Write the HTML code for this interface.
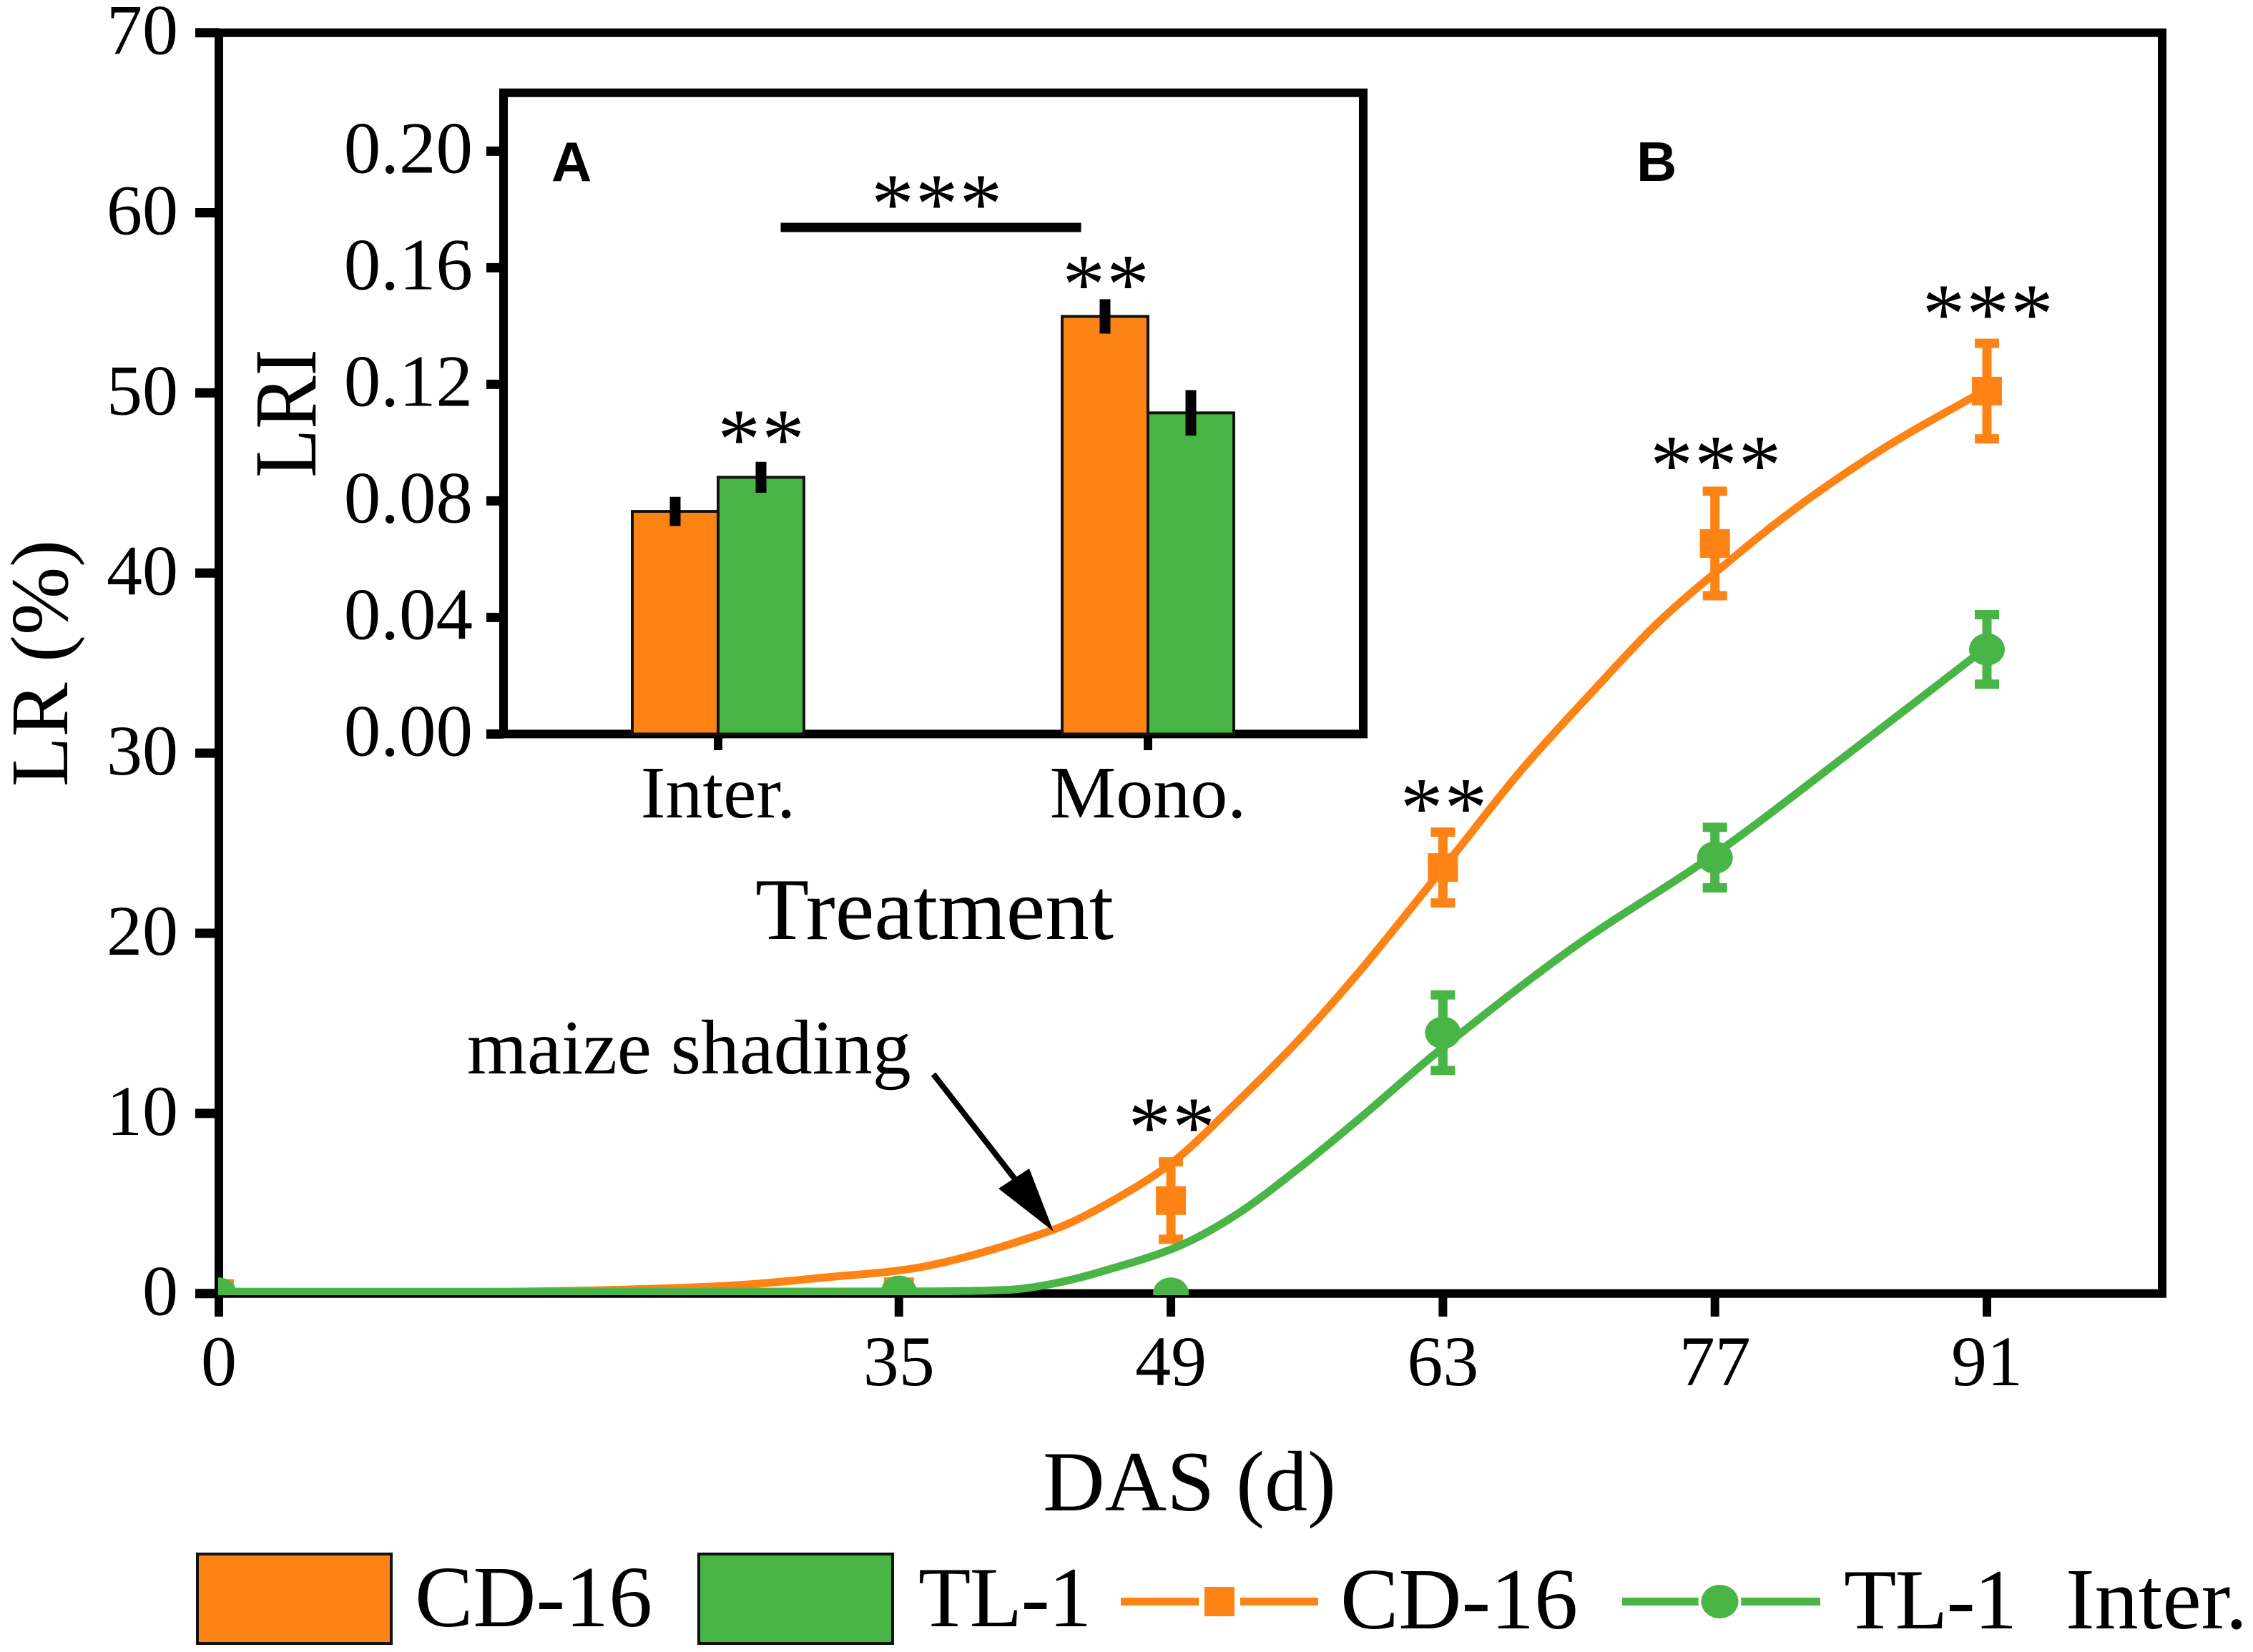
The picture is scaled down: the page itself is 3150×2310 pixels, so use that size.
<!DOCTYPE html>
<html>
<head>
<meta charset="utf-8">
<title>LR and LRI chart</title>
<style>
html,body{margin:0;padding:0;background:#fff;}
svg{display:block;}
text{font-family:"Liberation Serif",serif;fill:#000;}
</style>
</head>
<body>
<svg id="chart" xmlns="http://www.w3.org/2000/svg" width="3150" height="2310" viewBox="0 0 3150 2310">
<defs>
<clipPath id="plot-clip"><rect x="305" y="40" width="2720" height="1771"/></clipPath>
</defs>
<rect x="0" y="0" width="3150" height="2310" fill="#fff"/>
<g id="main-axes"></g>
<g id="inset"></g>
<g id="series" clip-path="url(#plot-clip)"></g>
<g id="stars"></g>

<text x="94" y="1100" font-size="114" transform="rotate(-90 94 1100)">LR (%)</text>
<text x="1458" y="2112" font-size="120">DAS (d)</text>
<text transform="translate(441,668) rotate(-90) scale(0.9,1)" font-size="124">LRI</text>
<text x="1056" y="1313" font-size="123">Treatment</text>
<text x="771" y="253" font-size="78" font-weight="700" style="font-family:'Liberation Sans',sans-serif">A</text>
<text x="2288" y="253" font-size="78" font-weight="700" style="font-family:'Liberation Sans',sans-serif">B</text>
<text x="653" y="1501" font-size="108">maize shading</text>
<g>
<line x1="1305" y1="1502" x2="1420" y2="1650" stroke="#000" stroke-width="8"/>
<polygon points="1473,1722 1396,1662 1439,1634" fill="#000"/>
</g>

<g>
<rect x="276" y="2173" width="271" height="125" fill="#FC8314" stroke="#111" stroke-width="4"/>
<text x="580" y="2274" font-size="122">CD-16</text>
<rect x="977" y="2173" width="271" height="125" fill="#4AB547" stroke="#111" stroke-width="4"/>
<text x="1284" y="2274" font-size="120" letter-spacing="-1.5">TL-1</text>
<line x1="1567" y1="2239.5" x2="1843" y2="2239.5" stroke="#FC8314" stroke-width="11"/>
<rect x="1676" y="2210" width="58" height="60" fill="#fff"/>
<rect x="1684" y="2219" width="42" height="41" fill="#FC8314"/>
<text x="1874" y="2277" font-size="122">CD-16</text>
<line x1="2268" y1="2239.5" x2="2545" y2="2239.5" stroke="#4AB547" stroke-width="11"/>
<ellipse cx="2404.5" cy="2239.5" rx="30" ry="27" fill="#fff"/>
<ellipse cx="2404.5" cy="2239.5" rx="26" ry="23.5" fill="#4AB547"/>
<text x="2578" y="2277" font-size="120" letter-spacing="-1.5">TL-1</text>
<text x="2888" y="2277" font-size="122">Inter.</text>
</g>
</svg>
<script>
// ---- main panel data ----
const yTicks = [0, 10, 20, 30, 40, 50, 60, 70];
const xTicks = [0, 35, 49, 63, 77, 91];
const sampleDays = [0, 35, 49, 63, 77, 91];
const cd16Mean = [0, 0.1, 5.16, 23.65, 41.64, 50.1];
const cd16Err = [0, 0, 2.15, 1.97, 2.9, 2.65];
const tl1Mean = [0, 0.1, 0, 14.48, 24.2, 35.76];
const tl1Err = [0, 0, 0, 2.1, 1.68, 1.93];
const cd16FitDays = [0, 15, 25.7, 31.3, 36.6, 42.9, 45.9, 49.1, 52, 55.6, 58.8, 63.3, 67.05, 70.8, 74, 77, 81.1, 85.8, 91];
const cd16FitValues = [0.1, 0.1, 0.4, 0.9, 1.56, 3.52, 5.09, 7.3, 10.2, 14.1, 18.0, 24.0, 29.07, 33.53, 37.17, 40.0, 43.55, 47.0, 50.2];
const tl1FitDays = [0, 25, 36.6, 40.8, 42.9, 45.05, 49.3, 52.4, 55.6, 58.8, 62.8, 69.7, 77, 84, 91];
const tl1FitValues = [0.1, 0.1, 0.12, 0.22, 0.54, 1.1, 2.58, 4.4, 6.97, 9.8, 13.48, 19.2, 24.4, 30.08, 35.9];
const starDays = [49, 63, 77, 91];
const starLabels = ['**', '**', '***', '***'];
const starBottomValues = [8.92, 26.65, 45.66, 54.06];

// ---- inset data ----
const insetTicks = [0, 0.04, 0.08, 0.12, 0.16, 0.20];
const treatments = ['Inter.', 'Mono.'];
const insetCd16 = [0.0764, 0.1433];
const insetCd16Err = [0.005, 0.0059];
const insetTl1 = [0.0881, 0.1102];
const insetTl1Err = [0.0053, 0.0078];
const insetStars = ['', '**'];

const ORANGE = '#FC8314';
const GREEN = '#4AB547';
const SVGNS = 'http://www.w3.org/2000/svg';

function sx(d) { return 306 + d * (2778 - 306) / 91; }
function sy(v) { return 1808.7 - v * (1808.7 - 45.7) / 70; }
function ix(i) { return 1004 + i * 601; }
function iy(v) { return 1026.4 - v * 4075; }

function make(tag, attrs, parent) {
  const el = document.createElementNS(SVGNS, tag);
  for (const k in attrs) el.setAttribute(k, attrs[k]);
  parent.appendChild(el);
  return el;
}
function smoothPath(xs, ys) {
  let d = 'M' + xs[0].toFixed(1) + ' ' + ys[0].toFixed(1);
  for (let i = 0; i < xs.length - 1; i++) {
    const i0 = Math.max(i - 1, 0), i3 = Math.min(i + 2, xs.length - 1);
    const h = xs[i + 1] - xs[i];
    const m1 = (ys[i + 1] - ys[i0]) / (xs[i + 1] - xs[i0]);
    const m2 = (ys[i3] - ys[i]) / (xs[i3] - xs[i]);
    const c1x = xs[i] + h / 3, c1y = ys[i] + m1 * h / 3;
    const c2x = xs[i + 1] - h / 3, c2y = ys[i + 1] - m2 * h / 3;
    d += 'C' + c1x.toFixed(1) + ' ' + c1y.toFixed(1) + ' ' + c2x.toFixed(1) + ' ' + c2y.toFixed(1) + ' ' + xs[i + 1].toFixed(1) + ' ' + ys[i + 1].toFixed(1);
  }
  return d;
}

// main axes
const axes = document.getElementById('main-axes');
const frame = make('path', {d: 'M306 45.7H3023V1808.7H306Z', fill: 'none', stroke: '#000', 'stroke-width': 12, 'stroke-linejoin': 'miter'}, axes);


yTicks.forEach(function (v) {
  const t = make('line', {x1: 273, x2: 306, y1: sy(v), y2: sy(v), stroke: '#000', 'stroke-width': 13}, axes);
  
  
  const l = make('text', {x: 249, y: sy(v) + 30, 'font-size': 100, 'text-anchor': 'end'}, axes);
  
  
  l.textContent = String(v);
});
xTicks.forEach(function (d) {
  const t = make('line', {x1: sx(d), x2: sx(d), y1: 1808.7, y2: 1841, stroke: '#000', 'stroke-width': 12}, axes);
  
  
  const l = make('text', {x: sx(d), y: 1937, 'font-size': 100, 'text-anchor': 'middle'}, axes);
  
  
  l.textContent = String(d);
});

// inset
const inset = document.getElementById('inset');
const insetFrame = make('path', {d: 'M704 1026.4V129.7H1906V1026.4', fill: 'none', stroke: '#000', 'stroke-width': 12}, inset);


const insetBase = make('line', {x1: 680, x2: 1912, y1: 1026.4, y2: 1026.4, stroke: '#000', 'stroke-width': 12}, inset);


insetTicks.forEach(function (v) {
  const t = make('line', {x1: 680, x2: 704, y1: iy(v), y2: iy(v), stroke: '#000', 'stroke-width': 13}, inset);
  
  
  const l = make('text', {x: 661, y: iy(v) + 30, 'font-size': 103, 'text-anchor': 'end'}, inset);
  
  
  l.textContent = v.toFixed(2);
});
treatments.forEach(function (name, i) {
  const c = ix(i);
  const t = make('line', {x1: c, x2: c, y1: 1026.4, y2: 1049, stroke: '#000', 'stroke-width': 12}, inset);
  
  
  const l = make('text', {x: c, y: 1143, 'font-size': 104, 'text-anchor': 'middle'}, inset);
  
  
  l.textContent = name;

  const b1 = make('rect', {x: c - 120, y: iy(insetCd16[i]), width: 120, height: iy(0) - iy(insetCd16[i]), fill: ORANGE, stroke: '#111', 'stroke-width': 4}, inset);
  
  
  const b2 = make('rect', {x: c, y: iy(insetTl1[i]), width: 120, height: iy(0) - iy(insetTl1[i]), fill: GREEN, stroke: '#111', 'stroke-width': 4}, inset);
  
  
  const e1 = make('line', {x1: c - 60, x2: c - 60, y1: iy(insetCd16[i] + insetCd16Err[i]), y2: iy(insetCd16[i] - insetCd16Err[i]), stroke: '#000', 'stroke-width': 15}, inset);
  
  
  const e2 = make('line', {x1: c + 60, x2: c + 60, y1: iy(insetTl1[i] + insetTl1Err[i]), y2: iy(insetTl1[i] - insetTl1Err[i]), stroke: '#000', 'stroke-width': 15}, inset);
  
  
});
const sigLine = make('line', {x1: 1091.5, x2: 1511.5, y1: 318, y2: 318, stroke: '#000', 'stroke-width': 13}, inset);



// significance asterisks
const stars = document.getElementById('stars');
function addStars(x, bottom, label, name) {
  const s = make('text', {x: x, y: bottom + 32, 'font-size': 120, 'letter-spacing': 1.7, 'text-anchor': 'middle'}, stars);
  
  
  s.textContent = label;
}
addStars(1310.5, 293, '***', 'inset-stars-between-treatments');
addStars(1065, 622, '**', 'inset-stars-inter');
addStars(1547, 405.7, insetStars[1], 'inset-stars-mono');
starDays.forEach(function (d, i) {
  addStars(sx(d) + 2, sy(starBottomValues[i]), starLabels[i], 'main-stars');
});

// line series
const series = document.getElementById('series');
const cd16Line = make('path', {d: smoothPath(cd16FitDays.map(sx), cd16FitValues.map(sy)), fill: 'none', stroke: ORANGE, 'stroke-width': 11}, series);


sampleDays.forEach(function (d, i) {
  const x = sx(d), y = sy(cd16Mean[i]), e = cd16Err[i];
  if (e > 0) {
    const st = make('line', {x1: x, x2: x, y1: sy(cd16Mean[i] + e), y2: sy(cd16Mean[i] - e), stroke: ORANGE, 'stroke-width': 13}, series);
    
    
    [1, -1].forEach(function (dir) {
      const cap = make('line', {x1: x - 17, x2: x + 17, y1: sy(cd16Mean[i] + dir * e), y2: sy(cd16Mean[i] + dir * e), stroke: ORANGE, 'stroke-width': 13}, series);
      
      
    });
  }
  const m = make('rect', {x: x - 21, y: y - 20, width: 42, height: 40, fill: ORANGE}, series);
  
  
});
const tl1Line = make('path', {d: smoothPath(tl1FitDays.map(sx), tl1FitValues.map(sy)), fill: 'none', stroke: GREEN, 'stroke-width': 11}, series);


sampleDays.forEach(function (d, i) {
  const x = sx(d), y = sy(tl1Mean[i]), e = tl1Err[i];
  if (e > 0) {
    const st = make('line', {x1: x, x2: x, y1: sy(tl1Mean[i] + e), y2: sy(tl1Mean[i] - e), stroke: GREEN, 'stroke-width': 13}, series);
    
    
    [1, -1].forEach(function (dir) {
      const cap = make('line', {x1: x - 17, x2: x + 17, y1: sy(tl1Mean[i] + dir * e), y2: sy(tl1Mean[i] + dir * e), stroke: GREEN, 'stroke-width': 13}, series);
      
      
    });
  }
  const m = make('ellipse', {cx: x, cy: y, rx: 25, ry: 22.5, fill: GREEN}, series);
  
  
});
</script>
</body>
</html>
